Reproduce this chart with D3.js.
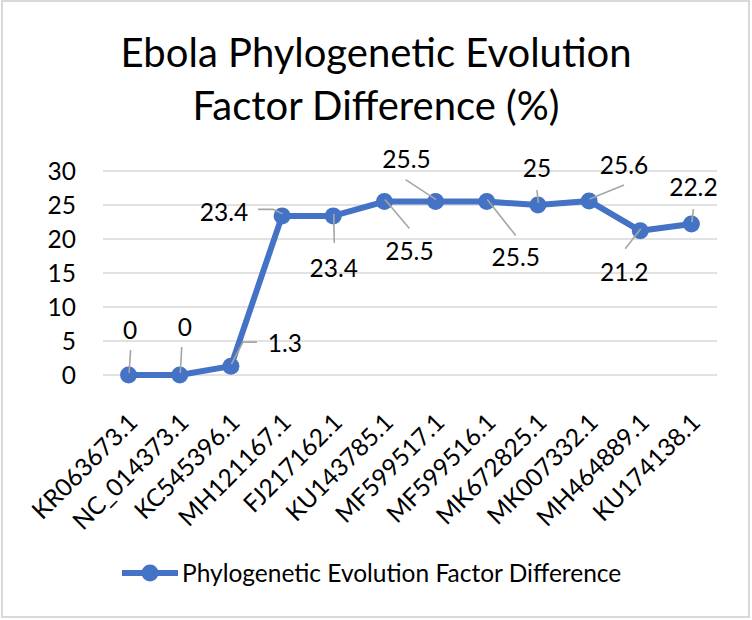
<!DOCTYPE html>
<html>
<head>
<meta charset="utf-8">
<script src="https://cdn.jsdelivr.net/npm/d3@7"></script>
<style>
  html, body { margin: 0; padding: 0; background: #fff; }
  svg { display: block; }
  text { font-family: Lato, "Open Sans", sans-serif; fill: #000; }
</style>
</head>
<body>
<script>
// ---- data ----
const categories = ["KR063673.1", "NC_014373.1", "KC545396.1", "MH121167.1", "FJ217162.1", "KU143785.1",
                    "MF599517.1", "MF599516.1", "MK672825.1", "MK007332.1", "MH464889.1", "KU174138.1"];
const values = [0, 0, 1.3, 23.4, 23.4, 25.5, 25.5, 25.5, 25, 25.6, 21.2, 22.2];
const yTicks = [0, 5, 10, 15, 20, 25, 30];
const titleLines = ["Ebola Phylogenetic Evolution", "Factor Difference (%)"];
const seriesName = "Phylogenetic Evolution Factor Difference";

// data-label placement (offsets from the point, px) and leader-line elbows
const labelOffsets = [[1.5, -45], [5, -48], [54, -23], [-58, -4], [0.5, 52], [25, 50],
                      [-29, -42], [29, 56], [-1, -37], [35, -36], [-16, 41], [2, -37]];
const leaderPaths = [
  [[2, -25]], [[2, -28]], [[26, -24], [12, -24]], [[-24, -6.5], [-9, -6.5]],
  [[1, 27]], [[25, 27]], [[-30, -22]], [[29, 34]], [[-1, -15]], [[35, -16]],
  [[-15, 18]], [[2, -15]]
];

const W = 752, H = 620;
const FS = 24.5;
const svg = d3.select("body").append("svg").attr("width", W).attr("height", H);

// outer border
svg.append("rect").attr("x", 2).attr("y", 1).attr("width", 747).attr("height", 616)
  .attr("fill", "#fff").attr("stroke", "#d9d9d9").attr("stroke-width", 2);

const x = d3.scalePoint().domain(categories).range([103, 717]).padding(0.5);
const y = d3.scaleLinear().domain([0, 30]).range([375, 171]);

// title
svg.append("g").selectAll("text").data(titleLines).join("text")
  .attr("x", 376).attr("y", (d, i) => 67 + i * 53)
  .attr("text-anchor", "middle").style("font-size", "40px").text(d => d);

// gridlines
svg.append("g").selectAll("line").data(yTicks).join("line")
  .attr("x1", 103).attr("x2", 717)
  .attr("y1", d => y(d)).attr("y2", d => y(d))
  .attr("stroke", "#d9d9d9").attr("stroke-width", 1.5);

// y axis
const yAxis = svg.append("g").attr("transform", "translate(103,0)")
  .call(d3.axisLeft(y).tickValues(yTicks).tickSize(0).tickPadding(27));
yAxis.select(".domain").remove();
yAxis.selectAll("text").style("font-size", FS + "px").attr("dy", "0.36em");

// x axis labels
const xAxis = svg.append("g").attr("transform", "translate(0,375)")
  .call(d3.axisBottom(x).tickSize(0).tickPadding(0));
xAxis.select(".domain").remove();
xAxis.selectAll("text")
  .style("font-size", FS + "px")
  .attr("text-anchor", "end")
  .attr("dy", 0).attr("y", 0)
  .attr("transform", "translate(10,49) rotate(-45)");

// line
const pts = categories.map((c, i) => ({ c, v: values[i], px: x(c), py: y(values[i]), i }));
svg.append("path").datum(pts)
  .attr("d", d3.line().x(d => d.px).y(d => d.py))
  .attr("fill", "none").attr("stroke", "#4472C4").attr("stroke-width", 6)
  .attr("stroke-linejoin", "round");
svg.append("g").selectAll("circle").data(pts).join("circle")
  .attr("cx", d => d.px).attr("cy", d => d.py).attr("r", 8.5).attr("fill", "#4472C4");

// leader lines
svg.append("g").selectAll("path").data(pts).join("path")
  .attr("d", d => {
    const p = leaderPaths[d.i].map(o => [d.px + o[0], d.py + o[1]]);
    p.push([d.px + 0.5, d.py - 2]);
    return d3.line()(p);
  })
  .attr("fill", "none").attr("stroke", "#a6a6a6").attr("stroke-width", 1.6);

// data labels
svg.append("g").selectAll("text").data(pts).join("text")
  .attr("x", d => d.px + labelOffsets[d.i][0])
  .attr("y", d => d.py + labelOffsets[d.i][1])
  .attr("dy", "0.36em").attr("text-anchor", "middle")
  .style("font-size", FS + "px").text(d => d3.format("")(d.v));

// legend
const lg = svg.append("g").attr("transform", "translate(0,573)");
lg.append("line").attr("x1", 122).attr("x2", 178).attr("y1", 0).attr("y2", 0)
  .attr("stroke", "#4472C4").attr("stroke-width", 6);
lg.append("circle").attr("cx", 150).attr("cy", 0).attr("r", 8.5).attr("fill", "#4472C4");
lg.append("text").attr("x", 182).attr("y", 0).attr("dy", "0.36em")
  .style("font-size", FS + "px").text(seriesName);
</script>
</body>
</html>
